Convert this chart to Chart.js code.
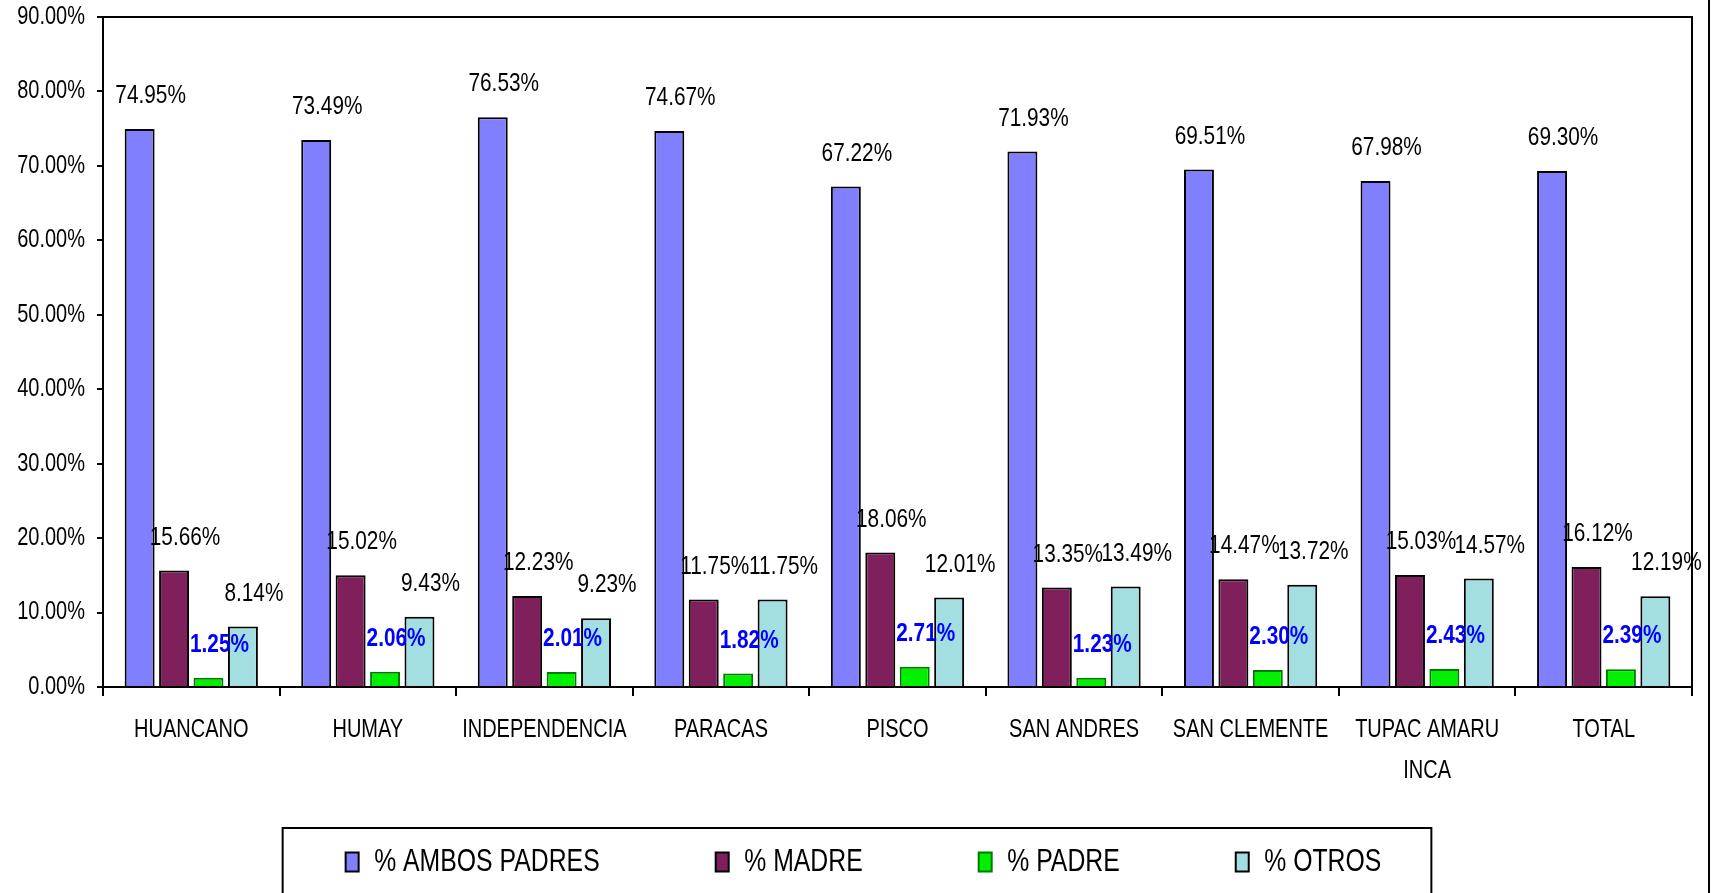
<!DOCTYPE html>
<html>
<head>
<meta charset="utf-8">
<script src="https://cdn.jsdelivr.net/npm/chart.js@4.4.1/dist/chart.umd.min.js"></script>
<style>
html,body{margin:0;padding:0;background:#fff;}
canvas{display:block;}
</style>
</head>
<body>
<canvas id="c" width="1716" height="893"></canvas>
<script>
const categories = ['HUANCANO', 'HUMAY', 'INDEPENDENCIA', 'PARACAS', 'PISCO', 'SAN ANDRES', 'SAN CLEMENTE', ['TUPAC AMARU', 'INCA'], 'TOTAL'];
const seriesNames = ['% AMBOS PADRES', '% MADRE', '% PADRE', '% OTROS'];
const ambosPadres = [74.95, 73.49, 76.53, 74.67, 67.22, 71.93, 69.51, 67.98, 69.30];
const madre = [15.66, 15.02, 12.23, 11.75, 18.06, 13.35, 14.47, 15.03, 16.12];
const padre = [1.25, 2.06, 2.01, 1.82, 2.71, 1.23, 2.30, 2.43, 2.39];
const otros = [8.14, 9.43, 9.23, 11.75, 12.01, 13.49, 13.72, 14.57, 12.19];
const yTicks = [0, 10, 20, 30, 40, 50, 60, 70, 80, 90];

const FONT = "'Liberation Sans', Arial, sans-serif";
const LEGEND_SIZE = 31;
const LEGEND_PAD = 116;

const fmt = v => Number(v).toFixed(2) + '%';

// Condensed (narrow) text rendering: compress glyphs horizontally.
const canvas = document.getElementById('c');
const c2d = canvas.getContext('2d');
const SX = 0.8;
const origFill = c2d.fillText.bind(c2d);
const origMeasure = c2d.measureText.bind(c2d);
c2d.fillText = function (text, x, y, maxWidth) {
  this.save();
  this.translate(x, y);
  this.scale(SX, 1);
  if (maxWidth === undefined || maxWidth === null) origFill(text, 0, 0);
  else origFill(text, 0, 0, maxWidth / SX);
  this.restore();
};
c2d.measureText = function (text) {
  const m = origMeasure(text);
  return {
    width: m.width * SX,
    actualBoundingBoxLeft: m.actualBoundingBoxLeft * SX,
    actualBoundingBoxRight: m.actualBoundingBoxRight * SX,
    actualBoundingBoxAscent: m.actualBoundingBoxAscent,
    actualBoundingBoxDescent: m.actualBoundingBoxDescent,
    fontBoundingBoxAscent: m.fontBoundingBoxAscent,
    fontBoundingBoxDescent: m.fontBoundingBoxDescent
  };
};

const dataLabels = {
  id: 'dataLabels',
  afterDatasetsDraw(chart) {
    const ctx = chart.ctx;
    ctx.save();
    ctx.textAlign = 'center';
    ctx.textBaseline = 'middle';
    chart.data.datasets.forEach((ds, di) => {
      const meta = chart.getDatasetMeta(di);
      const special = di === 2;
      ctx.font = (special ? 'bold ' : '') + '26px ' + FONT;
      ctx.fillStyle = special ? '#0000FF' : '#000000';
      meta.data.forEach((el, i) => {
        ctx.fillText(fmt(ds.data[i]), el.x + 11, el.y - 33);
      });
    });
    ctx.restore();
  }
};

const legendPlace = {
  id: 'legendPlace',
  afterLayout(chart) {
    const lg = chart.legend;
    const centerY = chart.chartArea.bottom + 175;
    lg.top = centerY - LEGEND_PAD - LEGEND_SIZE / 2;
    lg.bottom = chart.height;
    lg.left += 17.5;
    lg.right += 17.5;
  }
};

const frame = {
  id: 'frame',
  afterDraw(chart) {
    const {ctx, chartArea: a} = chart;
    ctx.save();
    ctx.strokeStyle = '#000';
    ctx.lineWidth = 2;
    ctx.strokeRect(a.left, a.top, a.right - a.left, a.bottom - a.top);
    ctx.beginPath();
    ctx.moveTo(chart.width - 7, 0);
    ctx.lineTo(chart.width - 7, chart.height);
    ctx.stroke();
    const lg = chart.legend;
    if (lg && lg.lineWidths) {
      const x0 = (lg.left + LEGEND_PAD + lg.right - lg.lineWidths[0]) / 2;
      const x1 = x0 + lg.lineWidths[0] - LEGEND_PAD;
      const cy = lg.top + LEGEND_PAD + LEGEND_SIZE / 2;
      const l = x0 - 63, r = x1 + 50, t = cy - 34;
      ctx.beginPath();
      ctx.moveTo(l, chart.height + 5);
      ctx.lineTo(l, t);
      ctx.lineTo(r, t);
      ctx.lineTo(r, chart.height + 5);
      ctx.stroke();
    }
    ctx.restore();
  }
};

const mk = (label, data, bg, border) => ({
  label, data,
  backgroundColor: bg,
  borderColor: border,
  borderWidth: 2,
  borderSkipped: 'start',
  categoryPercentage: 0.78,
  barPercentage: 0.87
});

new Chart(canvas, {
  type: 'bar',
  data: {
    labels: categories,
    datasets: [
      mk(seriesNames[0], ambosPadres, '#8080FF', '#000000'),
      mk(seriesNames[1], madre, '#7F1F5C', '#000000'),
      mk(seriesNames[2], padre, '#00F000', '#007A00'),
      mk(seriesNames[3], otros, '#A3DFE0', '#000000')
    ]
  },
  options: {
    responsive: false,
    animation: false,
    devicePixelRatio: 1,
    layout: { padding: { left: 0, right: 24, top: 17, bottom: 5 } },
    plugins: {
      tooltip: { enabled: false },
      legend: {
        position: 'bottom',
        maxHeight: 91,
        labels: {
          font: { family: FONT, size: LEGEND_SIZE },
          color: '#000',
          boxWidth: 13,
          boxHeight: 19,
          padding: LEGEND_PAD
        }
      }
    },
    scales: {
      x: {
        afterFit: s => { s.height = 110; s.paddingLeft = 0; s.paddingRight = 0; },
        grid: { drawOnChartArea: false, drawTicks: true, tickLength: 9, color: '#000', lineWidth: 2 },
        border: { display: true, color: '#000', width: 2 },
        ticks: {
          font: { family: FONT, size: 25, lineHeight: 1.65 },
          color: '#000',
          padding: 13,
          maxRotation: 0,
          autoSkip: false
        }
      },
      y: {
        min: 0,
        max: 90,
        afterFit: s => { s.width = 103; s.paddingTop = 0; s.paddingBottom = 0; },
        afterBuildTicks: s => { s.ticks = yTicks.map(v => ({ value: v })); },
        grid: { drawOnChartArea: false, drawTicks: true, tickLength: 6, color: '#000', lineWidth: 2 },
        border: { display: true, color: '#000', width: 2 },
        ticks: {
          font: { family: FONT, size: 25 },
          color: '#000',
          padding: 12,
          callback: v => fmt(v)
        }
      }
    }
  },
  plugins: [dataLabels, legendPlace, frame]
});
</script>
</body>
</html>
